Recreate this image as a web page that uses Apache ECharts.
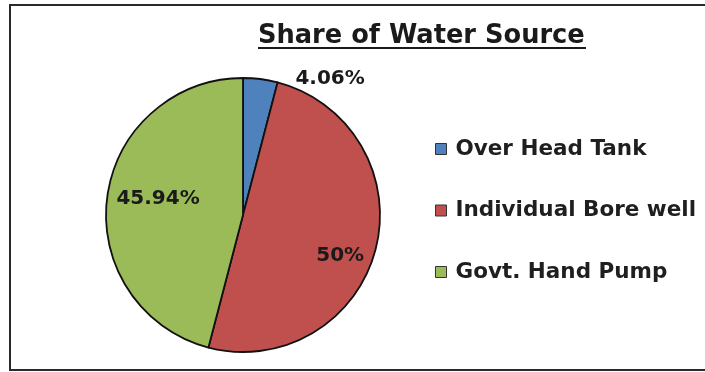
<!DOCTYPE html>
<html>
<head>
<meta charset="utf-8">
<script src="https://cdn.jsdelivr.net/npm/echarts@6/dist/echarts.min.js"></script>
<style>html,body{margin:0;padding:0;background:#fff}#c{width:705px;height:372px}</style>
</head>
<body>
<div id="c"></div>
<script>
const categories = ['Over Head Tank', 'Individual Bore well', 'Govt. Hand Pump'];
const shares = [4.06, 50, 45.94];
const colors = ['#4F81BD', '#C0504D', '#9BBB59'];
const labelShift = [[78, -65], [28, 23], [-14, -7]];

const chart = echarts.init(document.getElementById('c'), null, {renderer: 'canvas'});
const font = '"DejaVu Sans", sans-serif';
chart.setOption({
  animation: false,
  backgroundColor: '#ffffff',
  title: {
    text: 'Share of Water Source',
    left: 258, top: 23, padding: 0,
    textStyle: {fontFamily: font, fontSize: 25.7, fontWeight: 'bold', color: '#1a1a1a'}
  },
  graphic: [
    {type: 'rect', shape: {x: 10, y: 5, width: 700, height: 365},
     style: {fill: 'none', stroke: '#2a2a2a', lineWidth: 2}, silent: true},
    {type: 'line', shape: {x1: 258, y1: 48, x2: 586, y2: 48},
     style: {stroke: '#1a1a1a', lineWidth: 2}, silent: true}
  ],
  legend: {
    orient: 'vertical', left: 435, top: 138, padding: 0,
    itemGap: 39.5, itemWidth: 11, itemHeight: 11, icon: 'rect',
    data: categories,
    itemStyle: {borderColor: '#333', borderWidth: 1},
    textStyle: {fontFamily: font, fontSize: 21.5, fontWeight: 'bold', color: '#1f1f1f', lineHeight: 21,
      padding: [0, 0, 0, 4]},
    selectedMode: false
  },
  series: [{
    type: 'pie',
    center: [243, 215], radius: 137,
    startAngle: 90, clockwise: true,
    data: categories.map((n, i) => ({name: n, value: shares[i], itemStyle: {color: colors[i]}})),
    itemStyle: {borderColor: '#111', borderWidth: 1.8},
    label: {show: true, position: 'inside', formatter: '{c}%',
      fontFamily: font, fontSize: 20, fontWeight: 'bold', color: '#1a1a1a'},
    labelLine: {show: false},
    labelLayout: function (p) { const s = labelShift[p.dataIndex]; return {dx: s[0], dy: s[1]}; },
    emphasis: {disabled: true}
  }]
});
</script>
</body>
</html>
